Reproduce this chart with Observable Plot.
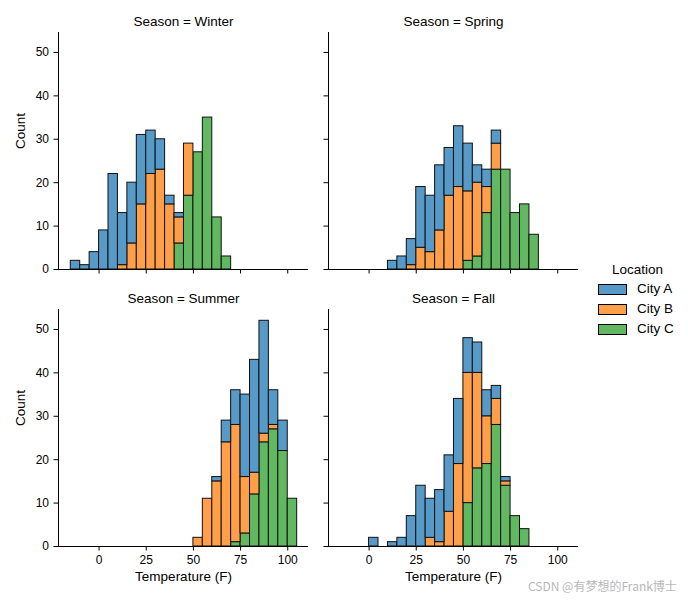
<!DOCTYPE html>
<html><head><meta charset="utf-8">
<script src="https://cdn.jsdelivr.net/npm/d3@7"></script>
<script src="https://cdn.jsdelivr.net/npm/@observablehq/plot@0.6"></script>
<style>
body{margin:0;background:#fff;}
#wrap{position:relative;width:688px;height:600px;font-family:"Liberation Sans",Arial,sans-serif;color:#000;overflow:hidden;}
.panel{position:absolute;}
.legend{position:absolute;left:590px;top:261px;font-size:13.5px;}
.legend .ttl{position:absolute;left:22px;top:0;width:50px;text-align:center;white-space:nowrap;line-height:18px;}
.legend .row{position:absolute;left:8px;white-space:nowrap;line-height:16px;}
.legend .sw{display:inline-block;width:27px;height:9px;border:1px solid #000;vertical-align:middle;margin-right:10px;}
.wm{position:absolute;left:528px;top:577px;font-family:"Noto Sans CJK SC","Liberation Sans",sans-serif;font-size:12px;color:#b8b8b8;white-space:nowrap;}
</style></head><body><div id="wrap"></div>
<script>
const seasons = ["Winter", "Spring", "Summer", "Fall"];
const locations = ["City A", "City B", "City C"];
const colors = ["#5799c7", "#ff9f4a", "#61b861"];
const binWidth = 5;
const xTicks = [0, 25, 50, 75, 100];
const yTicks = [0, 10, 20, 30, 40, 50];

// bin start temperatures and counts per location
const winterBins = [-15, -10, -5, 0, 5, 10, 15, 20, 25, 30, 35, 40, 45, 50, 55, 60, 65];
const winterA = [2, 1, 4, 9, 22, 12, 14, 16, 10, 7, 2, 1, 0, 0, 0, 0, 0];
const winterB = [0, 0, 0, 0, 0, 1, 6, 15, 22, 23, 15, 6, 12, 0, 0, 0, 0];
const winterC = [0, 0, 0, 0, 0, 0, 0, 0, 0, 0, 0, 6, 17, 27, 35, 12, 3];

const springBins = [10, 15, 20, 25, 30, 35, 40, 45, 50, 55, 60, 65, 70, 75, 80, 85];
const springA = [2, 3, 6, 14, 13, 15, 11, 14, 11, 4, 4, 3, 0, 0, 0, 0];
const springB = [0, 0, 1, 5, 4, 9, 17, 19, 16, 17, 6, 6, 0, 0, 0, 0];
const springC = [0, 0, 0, 0, 0, 0, 0, 0, 2, 3, 13, 23, 23, 13, 15, 8];

const summerBins = [50, 55, 60, 65, 70, 75, 80, 85, 90, 95, 100];
const summerA = [0, 0, 1, 5, 8, 19, 26, 26, 8, 7, 0];
const summerB = [2, 11, 15, 24, 27, 13, 5, 2, 1, 0, 0];
const summerC = [0, 0, 0, 0, 1, 3, 12, 24, 27, 22, 11];

const fallBins = [0, 5, 10, 15, 20, 25, 30, 35, 40, 45, 50, 55, 60, 65, 70, 75, 80];
const fallA = [2, 0, 1, 2, 7, 14, 9, 12, 13, 15, 8, 7, 6, 3, 1, 0, 0];
const fallB = [0, 0, 0, 0, 0, 0, 2, 1, 8, 19, 30, 22, 11, 6, 1, 0, 0];
const fallC = [0, 0, 0, 0, 0, 0, 0, 0, 0, 0, 10, 18, 19, 28, 14, 7, 4];

const seasonData = {
  Winter: {bins: winterBins, series: [winterA, winterB, winterC]},
  Spring: {bins: springBins, series: [springA, springB, springC]},
  Summer: {bins: summerBins, series: [summerA, summerB, summerC]},
  Fall: {bins: fallBins, series: [fallA, fallB, fallC]}
};

function rowsFor(season) {
  const {bins, series} = seasonData[season];
  const rows = [];
  // stack bottom-up: City C, City B, City A (seaborn puts first hue on top)
  for (let li = locations.length - 1; li >= 0; --li) {
    bins.forEach((b, i) => {
      const c = series[li][i];
      if (c > 0) rows.push({location: locations[li], x1: b, x2: b + binWidth, count: c});
    });
  }
  return rows;
}

const xDomain = [-21.5, 111];
const yDomain = [0, 54.6];
const fontFam = '"Liberation Sans", Arial, sans-serif';

function panel(season, {left, top, bottom, xLabels, yLabels}) {
  const mb = bottom ? 54 : 10;
  const marks = [
    Plot.rectY(rowsFor(season), {x1: "x1", x2: "x2", y: "count", fill: "location", stroke: "#111", strokeWidth: 1}),
    Plot.ruleY([0], {stroke: "#000", strokeWidth: 1}),
    Plot.ruleX([xDomain[0]], {stroke: "#000", strokeWidth: 1}),
    Plot.text([`Season = ${season}`], {frameAnchor: "top", dy: -16, fontSize: 13.5, fill: "#000"})
  ];
  if (bottom) marks.push(Plot.text(["Temperature (F)"], {frameAnchor: "bottom", dy: 34, fontSize: 13.5, fill: "#000"}));
  if (yLabels) marks.push(Plot.text(["Count"], {frameAnchor: "left", rotate: -90, dx: -38, dy: -2, fontSize: 13.5, fill: "#000"}));
  const svg = Plot.plot({
    width: 318,
    height: 32 + 237 + mb,
    marginLeft: 58, marginRight: 10, marginTop: 32, marginBottom: mb,
    style: {fontFamily: fontFam, fontSize: "12px", color: "#000", background: "none", overflow: "visible"},
    x: {domain: xDomain, ticks: xTicks, tickSize: 4.5, tickPadding: 4, label: null,
        tickFormat: xLabels ? (d => String(d)) : (() => "")},
    y: {domain: yDomain, ticks: yTicks, tickSize: 4.5, tickPadding: 5, label: null,
        tickFormat: yLabels ? (d => String(d)) : (() => "")},
    color: {domain: locations, range: colors},
    marks
  });
  svg.classList.add("panel");
  svg.style.left = left + "px";
  svg.style.top = top + "px";
  return svg;
}

const wrap = document.getElementById("wrap");
wrap.appendChild(panel("Winter", {left: 0, top: 0, bottom: false, xLabels: false, yLabels: true}));
wrap.appendChild(panel("Spring", {left: 270, top: 0, bottom: false, xLabels: false, yLabels: false}));
wrap.appendChild(panel("Summer", {left: 0, top: 277, bottom: true, xLabels: true, yLabels: true}));
wrap.appendChild(panel("Fall", {left: 270, top: 277, bottom: true, xLabels: true, yLabels: false}));

// legend
const lg = document.createElement("div");
lg.className = "legend";
const ttl = document.createElement("div");
ttl.className = "ttl";
ttl.textContent = "Location";
lg.appendChild(ttl);
locations.forEach((loc, i) => {
  const r = document.createElement("div");
  r.className = "row";
  r.style.top = (20 + i * 20) + "px";
  const sw = document.createElement("span");
  sw.className = "sw";
  sw.style.background = colors[i];
  r.appendChild(sw);
  r.appendChild(document.createTextNode(loc));
  lg.appendChild(r);
});
wrap.appendChild(lg);

const wm = document.createElement("div");
wm.className = "wm";
wm.textContent = "CSDN @有梦想的Frank博士";
wrap.appendChild(wm);
</script>
</body></html>
